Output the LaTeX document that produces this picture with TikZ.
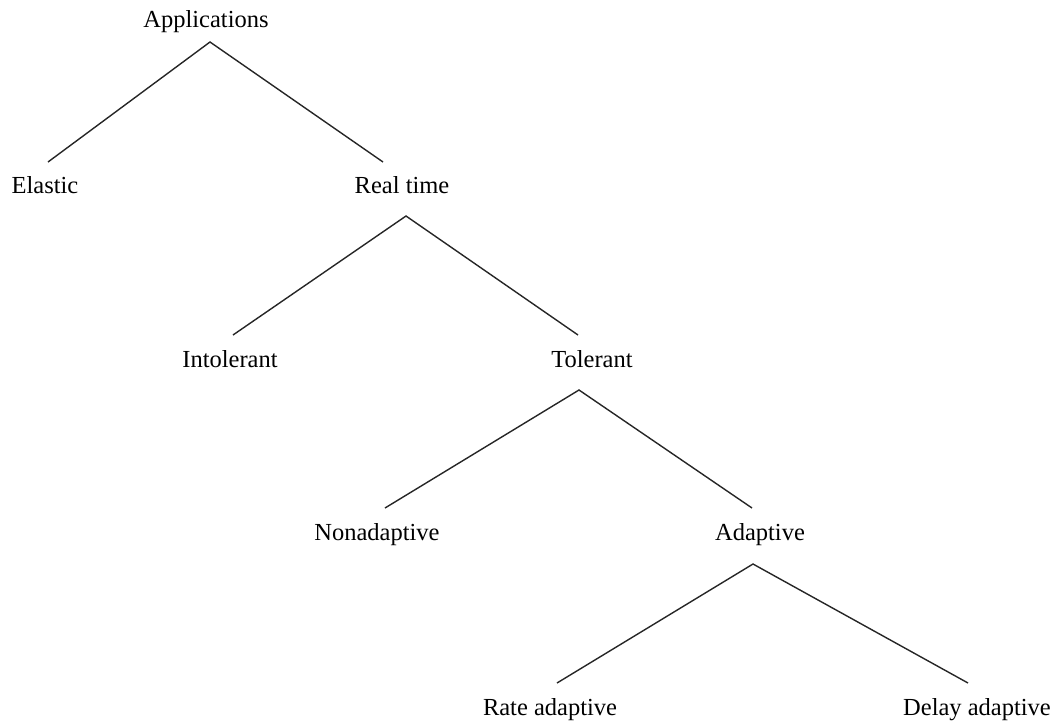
\documentclass[tikz,border=0pt]{standalone}
\usepackage{fontspec}
\setmainfont{Liberation Serif}
\begin{document}
\begin{tikzpicture}[x=1pt, y=-1pt,
  label/.style={anchor=base, inner sep=0pt, font=\fontsize{24.5}{28}\selectfont},
  branch/.style={line width=1.4pt, draw=black!85, line join=miter}]
\useasboundingbox (0,0) rectangle (1054,721);

% category labels
\node[label] (app)   at (206,27)  {Applications};
\node[label] (elas)  at (45,193)  {Elastic};
\node[label] (rt)    at (402,193) {Real time};
\node[label] (intol) at (230,367) {Intolerant};
\node[label] (tol)   at (592,367) {Tolerant};
\node[label] (nonad) at (377,540) {Nonadaptive};
\node[label] (adap)  at (760,540) {Adaptive};
\node[label] (rate)  at (550,715) {Rate adaptive};
\node[label] (delay) at (977,715) {Delay adaptive};

% fork points below each parent and line ends above each child
\coordinate (app-fork)   at (210,42);
\coordinate (elas-top)   at (48,162);
\coordinate (rt-top)     at (383,162);
\coordinate (rt-fork)    at (406,216);
\coordinate (intol-top)  at (233,335);
\coordinate (tol-top)    at (578,335);
\coordinate (tol-fork)   at (579,390);
\coordinate (nonad-top)  at (385,508);
\coordinate (adap-top)   at (752,508);
\coordinate (adap-fork)  at (753,564);
\coordinate (rate-top)   at (557,683);
\coordinate (delay-top)  at (968,683);

% tree branches
\draw[branch] (elas-top)  -- (app-fork)  -- (rt-top);
\draw[branch] (intol-top) -- (rt-fork)   -- (tol-top);
\draw[branch] (nonad-top) -- (tol-fork)  -- (adap-top);
\draw[branch] (rate-top)  -- (adap-fork) -- (delay-top);
\end{tikzpicture}
\end{document}
